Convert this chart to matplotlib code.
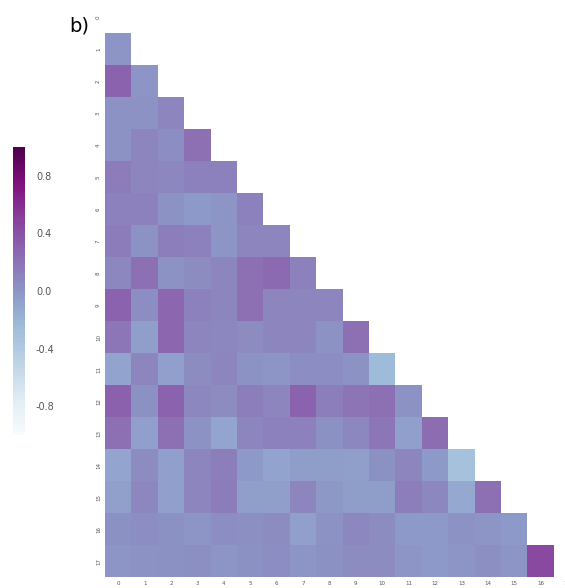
"""Lower-triangle correlation heatmap, panel b."""

import numpy as np
import matplotlib
matplotlib.use("Agg")
import matplotlib.pyplot as plt

plt.rcParams["axes.unicode_minus"] = False

labels = [str(i) for i in range(18)]

# lower-triangle correlations, row i holds r(i, 0..i-1)
row_1 = [0.0]
row_2 = [0.30, 0.0]
row_3 = [0.02, 0.02, 0.10]
row_4 = [0.02, 0.10, 0.05, 0.22]
row_5 = [0.15, 0.10, 0.08, 0.12, 0.12]
row_6 = [0.12, 0.12, 0.02, -0.02, 0.0, 0.12]
row_7 = [0.15, 0.02, 0.14, 0.12, 0.0, 0.10, 0.10]
row_8 = [0.08, 0.22, 0.02, 0.06, 0.10, 0.22, 0.25, 0.12]
row_9 = [0.30, 0.05, 0.28, 0.12, 0.10, 0.22, 0.10, 0.10, 0.10]
row_10 = [0.18, -0.05, 0.28, 0.10, 0.08, 0.06, 0.10, 0.10, 0.02, 0.22]
row_11 = [-0.08, 0.10, -0.06, 0.06, 0.10, 0.02, 0.0, 0.05, 0.05, 0.02, -0.25]
row_12 = [0.32, 0.03, 0.30, 0.08, 0.06, 0.14, 0.10, 0.30, 0.14, 0.20, 0.22,
          0.02]
row_13 = [0.22, -0.06, 0.22, 0.02, -0.10, 0.10, 0.12, 0.12, 0.03, 0.08, 0.18,
          -0.06, 0.24]
row_14 = [-0.10, 0.06, -0.06, 0.10, 0.14, -0.02, -0.08, -0.04, -0.04, -0.05,
          0.03, 0.10, -0.02, -0.30]
row_15 = [-0.07, 0.08, -0.06, 0.10, 0.15, -0.05, -0.05, 0.10, -0.01, -0.04,
          -0.04, 0.14, 0.08, -0.12, 0.22]
row_16 = [0.03, 0.05, 0.03, 0.0, 0.05, 0.04, 0.06, -0.06, 0.02, 0.08, 0.06,
          -0.02, -0.02, 0.02, 0.0, -0.02]
row_17 = [0.0, 0.02, 0.03, 0.04, 0.0, 0.03, 0.05, 0.0, 0.03, 0.06, 0.06,
          0.0, -0.02, 0.0, 0.04, 0.0, 0.45]

rows = [row_1, row_2, row_3, row_4, row_5, row_6, row_7, row_8, row_9,
        row_10, row_11, row_12, row_13, row_14, row_15, row_16, row_17]

n = len(labels)
corr = np.eye(n)
for i, vals in enumerate(rows, start=1):
    corr[i, :i] = vals
    corr[:i, i] = vals

mask = np.triu(np.ones((n, n), dtype=bool))
data = np.ma.masked_array(corr, mask=mask)

fig = plt.figure(figsize=(5.65, 5.88), dpi=100)

ax = fig.add_axes([0.186, 0.0187, 0.841, 0.979])
mesh = ax.pcolormesh(data, cmap="BuPu", vmin=-1, vmax=1)
ax.set_xlim(0, n)
ax.set_ylim(n, 0)
ax.set_xticks(np.arange(n) + 0.5)
ax.set_xticklabels(labels, fontsize=4, color="#555555")
ax.set_yticks(np.arange(n) + 0.5)
ax.set_yticklabels(labels, fontsize=4, color="#555555", rotation=90,
                   va="center")
ax.tick_params(length=0, pad=3)
for side in ax.spines.values():
    side.set_visible(False)

cax = fig.add_axes([0.023, 0.26, 0.021, 0.49])
cb = fig.colorbar(mesh, cax=cax)
cb.outline.set_visible(False)
cb.set_ticks([0.8, 0.4, 0.0, -0.4, -0.8])
cb.ax.tick_params(length=0, labelsize=7, labelcolor="#555555", pad=8)

fig.text(0.122, 0.955, "b)", fontsize=14, ha="left", va="center")

fig.savefig("out.png", dpi=100)
